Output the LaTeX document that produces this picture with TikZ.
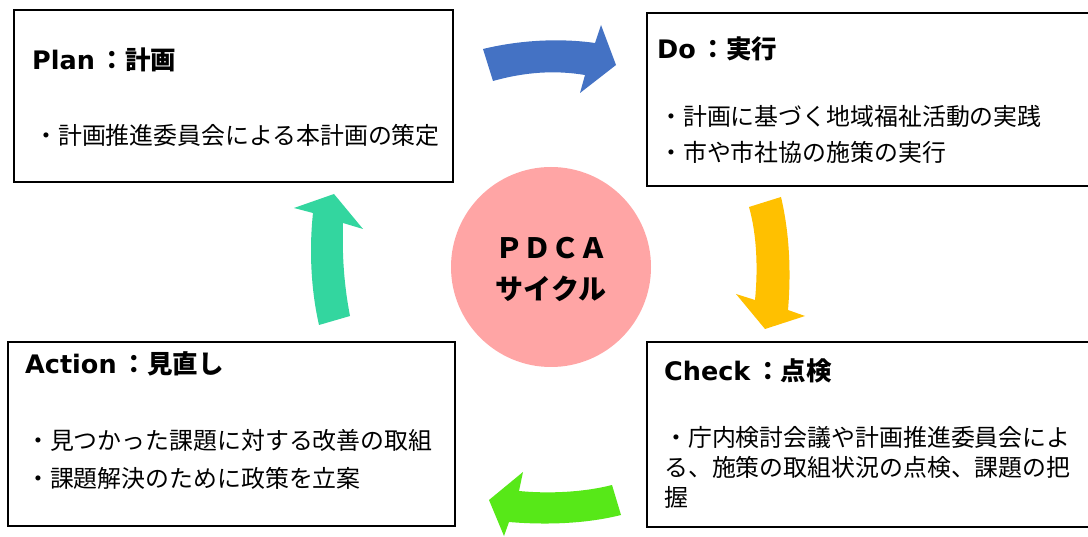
\documentclass[tikz,border=0pt]{standalone}
\usepackage{fontspec}
\setmainfont{DejaVu Sans}
\newfontfamily\jp{Noto Sans CJK JP}
\definecolor{cblue}{HTML}{4472C4}
\definecolor{cyellow}{HTML}{FFC000}
\definecolor{cgreen}{HTML}{57E818}
\definecolor{cteal}{HTML}{33D69F}
\definecolor{cpink}{HTML}{FFA5A5}
\tikzset{
  box/.style={draw=black, line width=2pt, fill=white},
  ttl/.style={anchor=west, inner sep=0pt, font=\fontsize{25.5}{30}\selectfont\bfseries},
  body/.style={anchor=west, inner sep=0pt, font=\fontsize{23.9}{30}\selectfont\jp},
  ctr/.style={inner sep=0pt, font=\fontsize{28}{32}\selectfont\jp\bfseries},
}
\newcommand{\ttlsep}{\hspace{5pt}{\jp ：}}
\begin{document}
\begin{tikzpicture}[x=1pt,y=-1pt]
\useasboundingbox (0,0) rectangle (1088,537);
\fill[white] (0,0) rectangle (1088,537);
% boxes
\draw[box] (14,10) rectangle (453,182);
\draw[box] (647,13) rectangle (1095,186);
\draw[box] (647,342) rectangle (1095,527);
\draw[box] (8,342) rectangle (455,526);
% titles
\node[ttl] (tplan) at (32,60) {Plan\ttlsep{\jp 計画}};
\node[ttl] (tdo) at (657,49) {Do\ttlsep{\jp 実行}};
\node[ttl] (tcheck) at (664,371) {Check\ttlsep{\jp 点検}};
\node[ttl] (taction) at (25,364) {Action\ttlsep{\jp 見直し}};
% bodies
\node[body] (bplan) at (34,135) {・計画推進委員会による本計画の策定};
\node[body] (bdo1) at (659,116) {・計画に基づく地域福祉活動の実践};
\node[body] (bdo2) at (659,152) {・市や市社協の施策の実行};
\node[body] (bch1) at (664,437) {・庁内検討会議や計画推進委員会によ};
\node[body] (bch2) at (664,467) {る、施策の取組状況の点検、課題の把};
\node[body] (bch3) at (664,497) {握};
\node[body] (bac1) at (26,440) {・見つかった課題に対する改善の取組};
\node[body] (bac2) at (26,478) {・課題解決のために政策を立案};
% centre
\node[circle, fill=cpink, minimum size=200pt, inner sep=0pt] (pdca) at (551,267) {};
\node[ctr] (l1) at (551,248) {ＰＤＣＡ};
\node[ctr] (l2) at (551,289) {サイクル};
% arrows
\fill[cblue] (483,49) .. controls (520,40) and (560,38) .. (595,43) -- (601,25) -- (616,65) -- (580,93) -- (585,75) .. controls (555,70) and (525,72) .. (493,81) -- cycle;
\fill[cyellow] (749,207) -- (781,197) .. controls (790,235) and (791,275) .. (788,310) -- (805,316) -- (765,329) -- (736,294) -- (755,300) .. controls (758,270) and (757,235) .. (749,207) -- cycle;
\fill[cgreen] (612,485) -- (621,515) .. controls (585,524) and (545,525) .. (509,522) -- (504,536) -- (489,500) -- (523,472) -- (519,491) .. controls (550,494) and (585,492) .. (612,485) -- cycle;
\fill[cteal] (319,325) -- (350,316) .. controls (344,285) and (342,255) .. (343,223) -- (363,229) -- (334,194) -- (294,208) -- (313,213) .. controls (309,250) and (311,290) .. (319,325) -- cycle;
\end{tikzpicture}
\end{document}
